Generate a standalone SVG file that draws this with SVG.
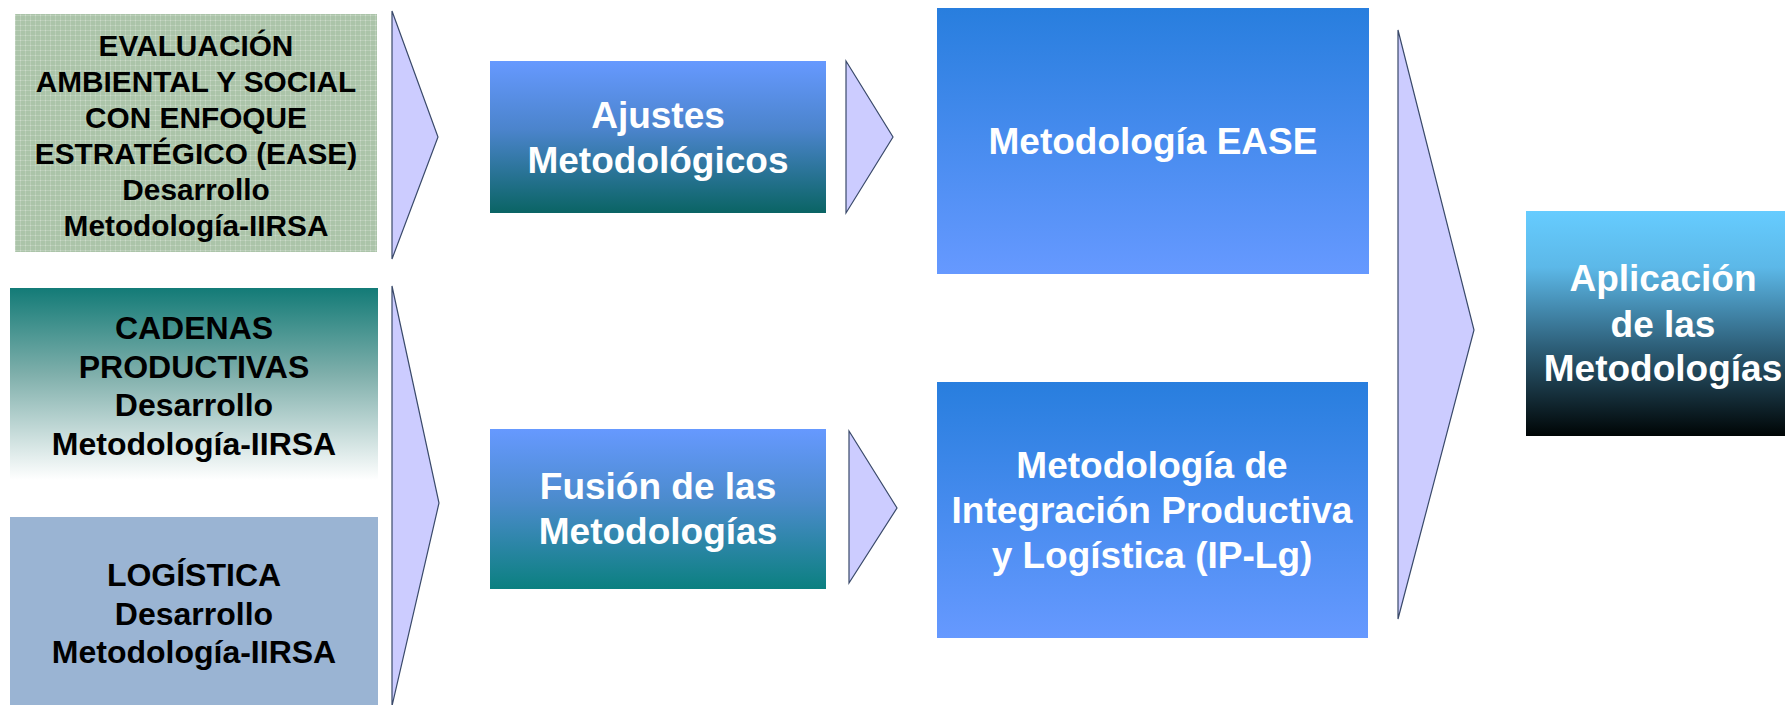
<svg xmlns="http://www.w3.org/2000/svg" width="1785" height="705" viewBox="0 0 1785 705">
<defs>
<style>
.dk{font-family:"Liberation Sans",Arial,sans-serif;font-weight:bold;fill:#000;text-anchor:middle}
.wt{font-family:"Liberation Sans",Arial,sans-serif;font-weight:bold;fill:#fff;text-anchor:middle;font-size:37px}
.tri{fill:#CCCCFF;stroke:#3A4A6A;stroke-width:1.2}
</style>
<pattern id="grid" width="5" height="5" patternUnits="userSpaceOnUse">
<rect width="5" height="5" fill="#ABC4A9"/>
<rect x="0" y="0" width="5" height="1" fill="#BACEB8"/>
<rect x="0" y="0" width="1" height="5" fill="#BACEB8"/>
<rect x="0" y="0" width="1" height="1" fill="#CCDBCA"/>
</pattern>
<linearGradient id="gCad" x1="0" y1="0" x2="0" y2="1">
<stop offset="0" stop-color="#137B77"/>
<stop offset="0.45" stop-color="#7FAFAB"/>
<stop offset="1" stop-color="#FFFFFF"/>
</linearGradient>
<linearGradient id="gAju" x1="0" y1="0" x2="0" y2="1">
<stop offset="0" stop-color="#6699FF"/>
<stop offset="0.45" stop-color="#4B84CC"/>
<stop offset="1" stop-color="#0A6464"/>
</linearGradient>
<linearGradient id="gFus" x1="0" y1="0" x2="0" y2="1">
<stop offset="0" stop-color="#6699FF"/>
<stop offset="0.45" stop-color="#4B8BCC"/>
<stop offset="1" stop-color="#0B8080"/>
</linearGradient>
<linearGradient id="gMet" x1="0" y1="0" x2="0" y2="1">
<stop offset="0" stop-color="#287EDE"/>
<stop offset="1" stop-color="#6699FF"/>
</linearGradient>
<linearGradient id="gApl" x1="0" y1="0" x2="0" y2="1">
<stop offset="0" stop-color="#66CCFF"/>
<stop offset="0.25" stop-color="#5CB8E8"/>
<stop offset="0.6" stop-color="#2E607A"/>
<stop offset="1" stop-color="#000505"/>
</linearGradient>
</defs>
<rect width="1785" height="705" fill="#fff"/>

<g id="connectors">
<polygon class="tri" points="392,11 438,137 392,259"/>
<polygon class="tri" points="392,286 439,503 392,706"/>
<polygon class="tri" points="846,61 893,137 846,213"/>
<polygon class="tri" points="849,431 897,508 849,583"/>
<polygon class="tri" points="1398,30 1474,330 1398,619"/>
</g>

<g id="n-ease-dev">
<rect x="15" y="14" width="362" height="238" fill="url(#grid)"/>
<text class="dk" font-size="29.8" x="196"><tspan x="196" y="56">EVALUACIÓN</tspan><tspan x="196" y="92">AMBIENTAL Y SOCIAL</tspan><tspan x="196" y="128">CON ENFOQUE</tspan><tspan x="196" y="164">ESTRATÉGICO (EASE)</tspan><tspan x="196" y="200">Desarrollo</tspan><tspan x="196" y="236">Metodología-IIRSA</tspan></text>
</g>

<g id="n-cadenas">
<rect x="10" y="288" width="368" height="192" fill="url(#gCad)"/>
<text class="dk" font-size="32" x="194"><tspan x="194" y="339">CADENAS</tspan><tspan x="194" y="378">PRODUCTIVAS</tspan><tspan x="194" y="416">Desarrollo</tspan><tspan x="194" y="455">Metodología-IIRSA</tspan></text>
</g>

<g id="n-logistica">
<rect x="10" y="517" width="368" height="190" fill="#9AB4D3"/>
<text class="dk" font-size="32" x="194"><tspan x="194" y="586">LOGÍSTICA</tspan><tspan x="194" y="625">Desarrollo</tspan><tspan x="194" y="663">Metodología-IIRSA</tspan></text>
</g>

<g id="n-ajustes">
<rect x="490" y="61" width="336" height="152" fill="url(#gAju)"/>
<text class="wt" x="658"><tspan x="658" y="128">Ajustes</tspan><tspan x="658" y="173">Metodológicos</tspan></text>
</g>

<g id="n-fusion">
<rect x="490" y="429" width="336" height="160" fill="url(#gFus)"/>
<text class="wt" x="658"><tspan x="658" y="499">Fusión de las</tspan><tspan x="658" y="544">Metodologías</tspan></text>
</g>

<g id="n-met-ease">
<rect x="937" y="8" width="432" height="266" fill="url(#gMet)"/>
<text class="wt" x="1153" y="154">Metodología EASE</text>
</g>

<g id="n-met-iplg">
<rect x="937" y="382" width="431" height="256" fill="url(#gMet)"/>
<text class="wt" x="1152"><tspan x="1152" y="478">Metodología de</tspan><tspan x="1152" y="523">Integración Productiva</tspan><tspan x="1152" y="568">y Logística (IP-Lg)</tspan></text>
</g>

<g id="n-aplicacion">
<rect x="1526" y="211" width="270" height="225" fill="url(#gApl)"/>
<text class="wt" x="1663"><tspan x="1663" y="291">Aplicación</tspan><tspan x="1663" y="337">de las</tspan><tspan x="1663" y="381">Metodologías</tspan></text>
</g>
</svg>
